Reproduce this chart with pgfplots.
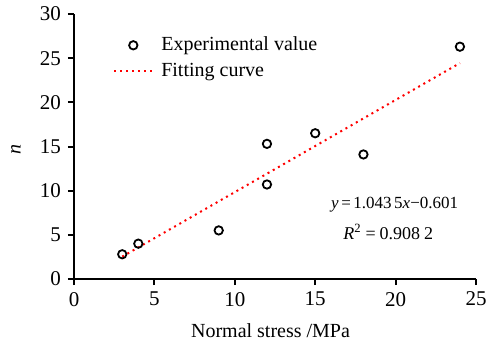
\documentclass[border=0pt]{standalone}
\usepackage{fontspec}
\setmainfont{Liberation Serif}
\usepackage{pgfplots}
\pgfplotsset{compat=1.18}
\pgfplotsset{
  shortline/.style={legend image code/.code={\draw[##1] (0bp,0bp) -- (19bp,0bp);}},
  shortmark/.style={legend image code/.code={\draw[##1] plot coordinates {(9.5bp,0bp)};}},
}
\begin{document}
\fontsize{10bp}{12bp}\selectfont
\begin{tikzpicture}
\useasboundingbox (-37bp,-32.5bp) rectangle (206.5bp,139.5bp);
\begin{axis}[
  at={(0,0)}, anchor=south west,
  scale only axis,
  width=201bp, height=132.5bp,
  xmin=0, xmax=25, ymin=0, ymax=30,
  xtick={0,5,...,25}, ytick={0,5,...,30},
  axis x line*=bottom, axis y line*=left,
  axis line style={line width=1bp, -},
  tick style={line width=1bp, black},
  tick align=outside,
  major tick length=3bp,
  /pgf/number format/assume math mode=true,
  tick label style={font=\fontsize{10.5bp}{12bp}\selectfont},
  xlabel={Normal stress /MPa},
  ylabel={\textit{n}},
  label style={font=\fontsize{10bp}{12bp}\selectfont},
  xlabel style={at={(axis description cs:0.489,0)}, anchor=center, yshift=-26bp},
  ylabel style={at={(axis description cs:0,0.49)}, anchor=center, yshift=29bp},
  legend style={draw=none, fill=none, at={(axis cs:2.42,27.91)}, anchor=north west,
    font=\fontsize{10bp}{12bp}\selectfont, row sep=0.7bp, column sep=2bp, inner sep=0bp},
  legend cell align=left,
  clip=false,
]
% measured points
\addplot[only marks, mark=o, mark size=2.1bp, line width=0.9bp, black, shortmark]
  coordinates {(3,2.8) (4,4.0) (9,5.5) (12,15.3) (12,10.7) (15,16.5) (18,14.1) (24,26.3)};
\addlegendentry{Experimental value}
% linear fit y = 1.0435x - 0.601 over the tested range
\addplot[red, dotted, line width=1bp, shortline]
  coordinates {(3,2.5295) (24,24.443)};
\addlegendentry{Fitting curve}
\node[anchor=base, font=\fontsize{8.5bp}{11bp}\selectfont] at (axis cs:19.94,7.94)
  {\textit{y}\hspace{0.15em}=\hspace{0.15em}1.043\hspace{0.15em}5\textit{x}−0.601};
\node[anchor=base, font=\fontsize{9bp}{11bp}\selectfont] at (axis cs:19.54,4.42)
  {\textit{R}\textsuperscript{2}\hspace{0.22em}=\hspace{0.22em}0.908\hspace{0.22em}2};
\end{axis}
\end{tikzpicture}
\end{document}
